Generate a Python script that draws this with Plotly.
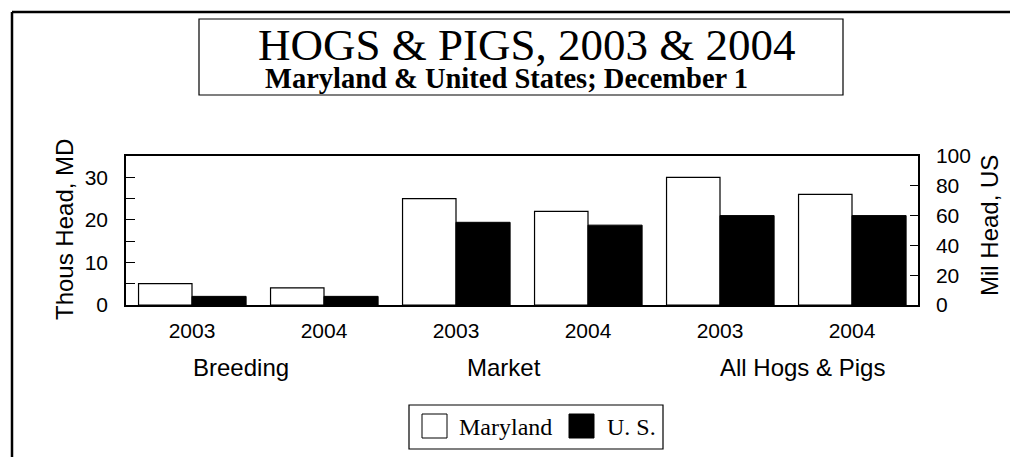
import plotly.graph_objects as go

# ---------------- data ----------------
groups = ["Breeding", "Market", "All Hogs & Pigs"]
years = ["2003", "2004", "2003", "2004", "2003", "2004"]
md_thous = [5, 4, 25, 22, 30, 26]          # Maryland, thousand head
us_mil = [5.8, 5.8, 55.5, 53.6, 60.0, 60.0]  # United States, million head
left_tickvals = [0, 5, 10, 15, 20, 25, 30]
left_ticktext = ["0", "", "10", "", "20", "", "30"]
right_tickvals = [0, 20, 40, 60, 80, 100]
right_ticktext = ["0", "20", "40", "60", "80", "100"]
series_names = ["Maryland", "U. S."]
title_text = "HOGS &amp; PIGS, 2003 &amp; 2004"
subtitle_text = "Maryland &amp; United States; December 1"
left_title = "Thous Head, MD"
right_title = "Mil Head, US"

# ---------------- geometry helpers ----------------
OFF = 8  # page body margin: screen = figure + 8
W, H = 1018 - OFF, 457 - OFF
# plot area in screen pixels
SL, SR, ST, SB = 126, 918, 156, 305
L, R, T, B = SL - OFF, SR - OFF, ST - OFF, SB - OFF


def px(xs):
    """screen x pixel -> paper"""
    return (xs - SL) / (SR - SL)


def py(ys):
    """screen y pixel -> paper"""
    return (SB - ys) / (SB - ST)


SANS = "Liberation Sans, Arial, sans-serif"
SERIF = "Liberation Serif, Times New Roman, serif"

xs = list(range(len(years)))

fig = go.Figure()
fig.add_trace(go.Bar(
    x=xs, y=md_thous, name=series_names[0], yaxis="y",
    width=0.405, offset=-0.405,
    marker=dict(color="white", line=dict(color="black", width=1.2)),
    showlegend=False,
))
fig.add_trace(go.Bar(
    x=xs, y=us_mil, name=series_names[1], yaxis="y2",
    width=0.41, offset=0,
    marker=dict(color="black", line=dict(color="black", width=1)),
    showlegend=False,
))

shapes = []
annotations = []

# outer frame (top and left edges visible)
shapes.append(dict(type="line", xref="paper", yref="paper",
                   x0=px(12), y0=py(12), x1=px(1040), y1=py(12),
                   line=dict(color="black", width=2.5)))
shapes.append(dict(type="line", xref="paper", yref="paper",
                   x0=px(12), y0=py(12), x1=px(12), y1=py(480),
                   line=dict(color="black", width=2.5)))
# title box
shapes.append(dict(type="rect", xref="paper", yref="paper",
                   x0=px(199), y0=py(19), x1=px(843), y1=py(95),
                   line=dict(color="black", width=1.2), fillcolor="white"))
annotations.append(dict(xref="paper", yref="paper", x=px(527), y=py(45),
                        text=title_text, showarrow=False,
                        font=dict(family=SERIF, size=45, color="black"),
                        xanchor="center", yanchor="middle"))
annotations.append(dict(xref="paper", yref="paper", x=px(506), y=py(78),
                        text="<b>" + subtitle_text + "</b>", showarrow=False,
                        font=dict(family=SERIF, size=28.5, color="black"),
                        xanchor="center", yanchor="middle"))

# axis titles
annotations.append(dict(xref="paper", yref="paper", x=px(64), y=py(230),
                        text=left_title, showarrow=False, textangle=-90,
                        font=dict(family=SANS, size=24, color="black"),
                        xanchor="center", yanchor="middle"))
annotations.append(dict(xref="paper", yref="paper", x=px(989), y=py(226),
                        text=right_title, showarrow=False, textangle=-90,
                        font=dict(family=SANS, size=24, color="black"),
                        xanchor="center", yanchor="middle"))

# group labels
group_px = [241, 504, 802]
for g, gx in zip(groups, group_px):
    annotations.append(dict(xref="paper", yref="paper", x=px(gx), y=py(367),
                            text=g.replace("&", "&amp;"), showarrow=False,
                            font=dict(family=SANS, size=24, color="black"),
                            xanchor="center", yanchor="middle"))

# custom legend
shapes.append(dict(type="rect", xref="paper", yref="paper",
                   x0=px(409), y0=py(405), x1=px(663), y1=py(449),
                   line=dict(color="black", width=1.2), fillcolor="white"))
shapes.append(dict(type="rect", xref="paper", yref="paper",
                   x0=px(422), y0=py(414), x1=px(447), y1=py(438),
                   line=dict(color="black", width=1), fillcolor="white"))
shapes.append(dict(type="rect", xref="paper", yref="paper",
                   x0=px(569), y0=py(414), x1=px(594), y1=py(438),
                   line=dict(color="black", width=1), fillcolor="black"))
annotations.append(dict(xref="paper", yref="paper", x=px(457), y=py(427),
                        text=series_names[0], showarrow=False,
                        font=dict(family=SERIF, size=24, color="black"),
                        xanchor="left", yanchor="middle"))
annotations.append(dict(xref="paper", yref="paper", x=px(605), y=py(427),
                        text=series_names[1], showarrow=False,
                        font=dict(family=SERIF, size=24, color="black"),
                        xanchor="left", yanchor="middle"))

fig.update_layout(
    width=W, height=H,
    margin=dict(l=L, r=W - R, t=T, b=H - B, pad=0),
    paper_bgcolor="white", plot_bgcolor="white",
    barmode="overlay",
    showlegend=False,
    shapes=shapes,
    annotations=annotations,
    xaxis=dict(range=[-0.5, 5.5], tickvals=xs, ticktext=years, ticks="",
               showline=True, mirror=True, linecolor="black", linewidth=1.5,
               showgrid=False, zeroline=False,
               tickfont=dict(family=SANS, size=21, color="black"),
               ticklabelstandoff=6),
    yaxis=dict(range=[0, 35], tickvals=left_tickvals, ticktext=left_ticktext,
               ticks="inside", ticklen=9, tickwidth=1, tickcolor="black",
               showline=True, linecolor="black", linewidth=1.5,
               showgrid=False, zeroline=False,
               tickfont=dict(family=SANS, size=21, color="black"),
               ticklabelstandoff=12),
    yaxis2=dict(range=[0, 100], tickvals=right_tickvals, ticktext=right_ticktext,
                overlaying="y", side="right",
                ticks="inside", ticklen=8, tickwidth=1, tickcolor="black",
                showline=True, linecolor="black", linewidth=1.5,
                showgrid=False, zeroline=False,
                tickfont=dict(family=SANS, size=21, color="black"),
                ticklabelstandoff=12),
)

fig.write_html("out.html")
